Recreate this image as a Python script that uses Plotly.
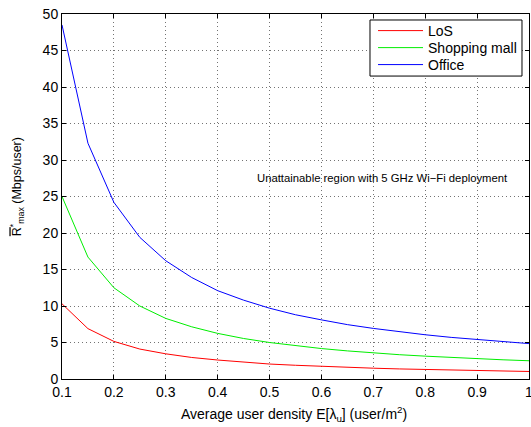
import plotly.graph_objects as go

density = [0.1, 0.15, 0.2, 0.25, 0.3, 0.35, 0.4, 0.45, 0.5, 0.55,
           0.6, 0.65, 0.7, 0.75, 0.8, 0.85, 0.9, 0.95, 1.0]
los = [10.3, 6.9, 5.15, 4.1, 3.45, 2.95, 2.6, 2.3, 2.05, 1.88,
       1.72, 1.6, 1.48, 1.38, 1.3, 1.22, 1.15, 1.09, 1.03]
mall = [25.0, 16.7, 12.5, 10.0, 8.3, 7.15, 6.25, 5.55, 5.0, 4.55,
        4.17, 3.85, 3.57, 3.33, 3.13, 2.94, 2.78, 2.63, 2.5]
office = [48.5, 32.3, 24.2, 19.4, 16.2, 13.9, 12.1, 10.8, 9.7, 8.8,
          8.1, 7.45, 6.93, 6.47, 6.06, 5.7, 5.39, 5.1, 4.85]

names = ["LoS", "Shopping mall", "Office"]
colors = ["#ff0000", "#00ee00", "#0000ff"]
series = [los, mall, office]

x_ticks = [0.1, 0.2, 0.3, 0.4, 0.5, 0.6, 0.7, 0.8, 0.9, 1.0]
x_ticktext = ["0.1", "0.2", "0.3", "0.4", "0.5", "0.6", "0.7", "0.8", "0.9", "1"]

legend_ids = ["legend", "legend2", "legend3"]
legend_rows = [0.9534, 0.9068, 0.8603]

fig = go.Figure()
for n, c, s, lg in zip(names, colors, series, legend_ids):
    fig.add_trace(go.Scatter(x=density, y=s, mode="lines", name=n, legend=lg,
                             line=dict(color=c, width=1)))

fig.add_annotation(x=0.717, y=27.5, text="Unattainable region with 5 GHz Wi\u2212Fi deployment",
                   showarrow=False, font=dict(size=11.3, color="black"))

# axis titles as paper annotations for exact placement
fig.add_annotation(xref="paper", yref="paper", x=0.497, y=-0.096, xanchor="center", yanchor="middle",
                   text="Average user density E[\u03bb<sub>u</sub>] (user/m<sup>2</sup>)",
                   showarrow=False, font=dict(size=14, color="black"))
fig.add_annotation(xref="paper", yref="paper", x=-0.096, y=0.526, xanchor="center", yanchor="middle",
                   textangle=-90,
                   text="<span style='text-decoration:overline'>R</span><sup>*</sup><sub>max</sub> (Mbps/user)",
                   showarrow=False, font=dict(size=12.5, color="black"))

# legend frame
fig.add_shape(type="rect", xref="paper", yref="paper", x0=0.6595, x1=0.985, y0=0.830, y1=0.9836,
              line=dict(color="black", width=1), fillcolor="white", layer="above")

axis_common = dict(showline=True, linecolor="black", linewidth=1, mirror="ticks",
                   ticks="inside", ticklen=4, tickcolor="black",
                   showgrid=True, gridcolor="rgba(0,0,0,0.55)", griddash="1px,3px", gridwidth=1,
                   zeroline=False, automargin=False, ticklabeloverflow="allow",
                   tickfont=dict(size=14, color="black"))

fig.update_xaxes(range=[0.1, 1.0], tickvals=x_ticks, ticktext=x_ticktext, **axis_common)
fig.update_yaxes(range=[0, 50], dtick=5, **axis_common)

legend_common = dict(x=0.666, xanchor="left", yanchor="middle", bgcolor="rgba(0,0,0,0)",
                     borderwidth=0, font=dict(size=14, color="black"), itemwidth=45)

fig.update_layout(
    width=531, height=427,
    margin=dict(l=62, r=2, t=14, b=48),
    paper_bgcolor="white", plot_bgcolor="white",
    font=dict(family="Liberation Sans, Arial, sans-serif", color="black"),
    showlegend=True,
    legend=dict(y=legend_rows[0], **legend_common),
    legend2=dict(y=legend_rows[1], **legend_common),
    legend3=dict(y=legend_rows[2], **legend_common),
)

fig.write_html("out.html", config={"displayModeBar": False},
               post_script="document.body.style.margin='0';document.body.style.overflow='hidden';")
